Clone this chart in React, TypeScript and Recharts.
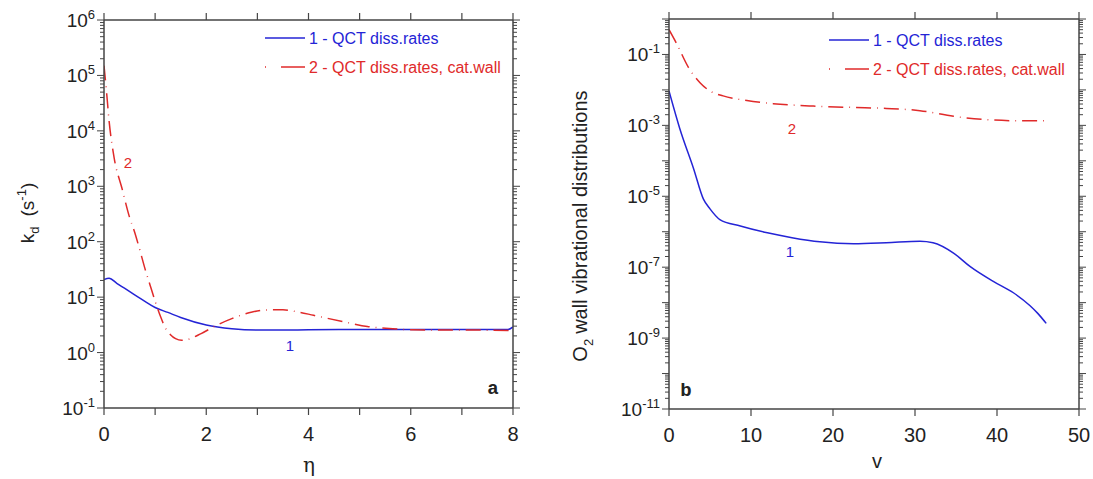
import React from "react";
import { LineChart, Line, XAxis, YAxis } from "recharts";

// panel a: dissociation rate vs eta
const etaCurve1 = [0, 0.1, 0.25, 0.4, 0.6, 0.8, 1.0, 1.25, 1.5, 2.0, 2.5, 3.0, 3.5, 4, 5, 6, 7, 7.9, 8];
const kdCurve1 = [20.7, 22, 17.8, 14.5, 11, 8.4, 6.5, 5.3, 4.3, 3.15, 2.7, 2.55, 2.55, 2.58, 2.6, 2.6, 2.6, 2.6, 2.9];
const etaCurve2 = [0, 0.05, 0.1, 0.2, 0.35, 0.5, 0.6, 0.7, 0.8, 0.9, 1.0, 1.1, 1.2, 1.3, 1.4, 1.52, 1.65, 1.9, 2.2, 2.5, 2.9, 3.25, 3.5, 3.8, 4.1, 4.75, 5.15, 5.65, 6.0, 7, 8];
const kdCurve2 = [1.5e5, 5e4, 1.5e4, 3.2e3, 930, 275, 148, 71, 33, 16.6, 8.5, 4.6, 2.8, 2.1, 1.78, 1.66, 1.74, 2.2, 3.1, 4.1, 5.4, 5.9, 5.9, 5.4, 4.7, 3.5, 2.95, 2.7, 2.57, 2.56, 2.5];

// panel b: O2 wall vibrational distributions vs v
const vCurve1 = [0, 1.3, 3, 4.2, 5, 6.2, 8.7, 12, 15, 18.4, 22.5, 26.5, 30.6, 32.2, 34.7, 36.7, 39.6, 42, 44, 45, 46];
const fCurve1 = [9.3e-3, 8.3e-4, 6.0e-5, 8.3e-6, 4.4e-6, 2.2e-6, 1.45e-6, 9.3e-7, 6.8e-7, 5.2e-7, 4.6e-7, 4.9e-7, 5.4e-7, 4.9e-7, 2.5e-7, 1.05e-7, 3.9e-8, 1.9e-8, 8.3e-9, 4.9e-9, 2.6e-9];
const vCurve2 = [0, 0.94, 2.35, 3.78, 5, 6.6, 9.5, 12.7, 17.6, 22.5, 26.5, 30.6, 34.7, 38.7, 42.8, 46];
const fCurve2 = [0.5, 0.2, 0.044, 0.016, 9.3e-3, 6.8e-3, 5.0e-3, 4.1e-3, 3.5e-3, 3.2e-3, 3.0e-3, 2.6e-3, 1.8e-3, 1.45e-3, 1.35e-3, 1.35e-3];

const etaTicks = [0, 1, 2, 3, 4, 5, 6, 7, 8];
const vTicks = [0, 10, 20, 30, 40, 50];
const kdDecades = [-1, 0, 1, 2, 3, 4, 5, 6];
const fDecades = [-11, -10, -9, -8, -7, -6, -5, -4, -3, -2, -1, 0];

const BLUE = "#2424d6";
const RED = "#e02a2a";
const AX = "#444";
const FONT = "'Liberation Sans', Arial, Helvetica, sans-serif";
const DASH = "15 6 0.8 6";

function logTicks(decades: number[]) {
  const out: number[] = [];
  decades.forEach((e, i) => {
    out.push(Math.pow(10, e));
    if (i < decades.length - 1) {
      for (let m = 2; m <= 9; m++) out.push(m * Math.pow(10, e));
    }
  });
  return out;
}

const toPoints = (xs: number[], ys: number[]) => xs.map((x, i) => ({ x, y: ys[i] }));

const isDecade = (v: number) => {
  const e = Math.log10(v);
  return Math.abs(e - Math.round(e)) < 1e-6;
};

function LeftLogTick(props: any) {
  const { x, y, payload, showLabel } = props;
  const v = payload.value;
  const major = isDecade(v);
  const e = Math.round(Math.log10(v));
  return (
    <g>
      <line x1={x - (major ? 7 : 4)} x2={x} y1={y} y2={y} stroke={AX} strokeWidth={1} />
      {major && showLabel(e) && (
        <text x={x - 9} y={y + 7} textAnchor="end" fontFamily={FONT} fontSize={19} fill="#222">
          10<tspan dy={-8} fontSize={13}>{e}</tspan>
        </text>
      )}
    </g>
  );
}

function RightLogTick(props: any) {
  const { x, y, payload } = props;
  const major = isDecade(payload.value);
  return <line x1={x} x2={x + (major ? 7 : 4)} y1={y} y2={y} stroke={AX} strokeWidth={1} />;
}

function BottomTick(props: any) {
  const { x, y, payload, every } = props;
  const v = payload.value;
  return (
    <g>
      <line x1={x} x2={x} y1={y} y2={y + 7} stroke={AX} strokeWidth={1.2} />
      {v % every === 0 && (
        <text x={x} y={y + 33} textAnchor="middle" fontFamily={FONT} fontSize={20} fill="#222">
          {v}
        </text>
      )}
    </g>
  );
}

function TopTick(props: any) {
  const { x, y } = props;
  return <line x1={x} x2={x} y1={y - 7} y2={y} stroke={AX} strokeWidth={1.2} />;
}

const axisLine = { stroke: AX, strokeWidth: 1.5 };

function PanelA() {
  const yt = logTicks(kdDecades);
  return (
    <LineChart width={540} height={479} margin={{ top: 10, right: 17, bottom: 31, left: 44 }}>
      <XAxis xAxisId="b" type="number" dataKey="x" domain={[0, 8]} ticks={etaTicks} interval={0} allowDataOverflow
        height={40} tickSize={0} tickMargin={0} tickLine={false} axisLine={axisLine}
        tick={(p: any) => <BottomTick {...p} every={2} />} />
      <XAxis xAxisId="t" orientation="top" type="number" dataKey="x" domain={[0, 8]} ticks={etaTicks} interval={0} allowDataOverflow
        height={10} tickSize={0} tickMargin={0} tickLine={false} axisLine={axisLine}
        tick={(p: any) => <TopTick {...p} />} />
      <YAxis yAxisId="l" type="number" scale="log" domain={[0.1, 1e6]} ticks={yt} interval={0} allowDataOverflow
        width={60} tickSize={0} tickMargin={0} tickLine={false} axisLine={axisLine}
        tick={(p: any) => <LeftLogTick {...p} showLabel={() => true} />} />
      <YAxis yAxisId="r" orientation="right" type="number" scale="log" domain={[0.1, 1e6]} ticks={yt} interval={0} allowDataOverflow
        width={10} tickSize={0} tickMargin={0} tickLine={false} axisLine={axisLine}
        tick={(p: any) => <RightLogTick {...p} />} />
      <Line xAxisId="b" yAxisId="l" data={toPoints(etaCurve1, kdCurve1)} dataKey="y" type="monotone"
        stroke={BLUE} strokeWidth={1.5} dot={false} isAnimationActive={false} />
      <Line xAxisId="b" yAxisId="l" data={toPoints(etaCurve2, kdCurve2)} dataKey="y" type="monotone"
        stroke={RED} strokeWidth={1.5} strokeDasharray={DASH} dot={false} isAnimationActive={false} />
    </LineChart>
  );
}

function PanelB() {
  const yt = logTicks(fDecades);
  return (
    <LineChart width={533} height={479} margin={{ top: 9, right: 4, bottom: 30, left: 39 }}>
      <XAxis xAxisId="b" type="number" dataKey="x" domain={[0, 50]} ticks={vTicks} interval={0} allowDataOverflow
        height={40} tickSize={0} tickMargin={0} tickLine={false} axisLine={axisLine}
        tick={(p: any) => <BottomTick {...p} every={10} />} />
      <XAxis xAxisId="t" orientation="top" type="number" dataKey="x" domain={[0, 50]} ticks={vTicks} interval={0} allowDataOverflow
        height={10} tickSize={0} tickMargin={0} tickLine={false} axisLine={axisLine}
        tick={(p: any) => <TopTick {...p} />} />
      <YAxis yAxisId="l" type="number" scale="log" domain={[1e-11, 1]} ticks={yt} interval={0} allowDataOverflow
        width={70} tickSize={0} tickMargin={0} tickLine={false} axisLine={axisLine}
        tick={(p: any) => <LeftLogTick {...p} showLabel={(e: number) => Math.abs(e) % 2 === 1} />} />
      <YAxis yAxisId="r" orientation="right" type="number" scale="log" domain={[1e-11, 1]} ticks={yt} interval={0} allowDataOverflow
        width={10} tickSize={0} tickMargin={0} tickLine={false} axisLine={axisLine}
        tick={(p: any) => <RightLogTick {...p} />} />
      <Line xAxisId="b" yAxisId="l" data={toPoints(vCurve1, fCurve1)} dataKey="y" type="monotone"
        stroke={BLUE} strokeWidth={1.5} dot={false} isAnimationActive={false} />
      <Line xAxisId="b" yAxisId="l" data={toPoints(vCurve2, fCurve2)} dataKey="y" type="monotone"
        stroke={RED} strokeWidth={1.5} strokeDasharray={DASH} dot={false} isAnimationActive={false} />
    </LineChart>
  );
}

function LegendRows({ x, y }: { x: number; y: number }) {
  return (
    <g fontFamily={FONT} fontSize={16}>
      <line x1={x} x2={x + 40} y1={y} y2={y} stroke={BLUE} strokeWidth={1.5} />
      <text x={x + 44} y={y + 6} fill={BLUE}>1 - QCT diss.rates</text>
      <line x1={x} x2={x + 1} y1={y + 29} y2={y + 29} stroke={RED} strokeWidth={1.5} />
      <line x1={x + 16} x2={x + 40} y1={y + 29} y2={y + 29} stroke={RED} strokeWidth={1.5} />
      <text x={x + 44} y={y + 35} fill={RED}>2 - QCT diss.rates, cat.wall</text>
    </g>
  );
}

function Annotations() {
  return (
    <svg width={1093} height={479} style={{ position: "absolute", left: 0, top: 0, pointerEvents: "none" }}>
      <LegendRows x={265} y={38} />
      <LegendRows x={829} y={40} />
      <g fontFamily={FONT} fontSize={15}>
        <text x={128} y={168} textAnchor="middle" fill={RED}>2</text>
        <text x={290} y={351} textAnchor="middle" fill={BLUE}>1</text>
        <text x={792} y={134} textAnchor="middle" fill={RED}>2</text>
        <text x={790} y={257} textAnchor="middle" fill={BLUE}>1</text>
      </g>
      <g fontFamily="'Liberation Mono', 'Courier New', monospace" fontWeight="bold" fontSize={19} fill="#222">
        <text x={493} y={394} textAnchor="middle">a</text>
        <text x={686} y={396} textAnchor="middle">b</text>
      </g>
      <g fontFamily={FONT} fontSize={19} fill="#222">
        <text transform="translate(34,213) rotate(-90)" textAnchor="middle">
          k<tspan dy={5} fontSize={13}>d</tspan>
          <tspan dy={-5} dx={10}>(s</tspan>
          <tspan dy={-8} fontSize={13}>-1</tspan>
          <tspan dy={8}>)</tspan>
        </text>
        <text transform="translate(587,226) rotate(-90)" textAnchor="middle" fontSize={20}>
          O<tspan dy={6} fontSize={13}>2</tspan>
          <tspan dy={-6} dx={5}>wall vibrational distributions</tspan>
        </text>
        <text x={309} y={472} textAnchor="middle" fontFamily="'DejaVu Serif', serif" fontSize={20}>η</text>
        <text x={877} y={468} textAnchor="middle" fontSize={20}>v</text>
      </g>
    </svg>
  );
}

export default function App() {
  return (
    <div style={{ position: "absolute", left: 0, top: 0, width: 1093, height: 479, background: "#fff" }}>
      <div style={{ position: "absolute", left: 0, top: 0 }}>
        <PanelA />
      </div>
      <div style={{ position: "absolute", left: 560, top: 0 }}>
        <PanelB />
      </div>
      <Annotations />
    </div>
  );
}
